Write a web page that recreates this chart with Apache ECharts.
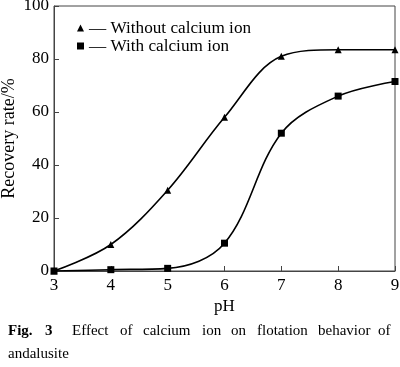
<!DOCTYPE html>
<html><head><meta charset="utf-8">
<script src="https://cdn.jsdelivr.net/npm/echarts@6/dist/echarts.min.js"></script>
<style>html,body{margin:0;padding:0;background:#fff}#c{width:400px;height:367px}</style>
</head><body><div id="c"></div>
<script>
const phValues = [3, 4, 5, 6, 7, 8, 9];
const withoutCalcium = [0, 10, 30.5, 58, 81, 83.5, 83.5];
const withCalcium = [0, 0.5, 1, 10.5, 52, 66, 71.5];
const seriesNames = ['Without calcium ion', 'With calcium ion'];
const captionBold = ['Fig.', '3'];
const captionWords = ['Effect', 'of', 'calcium', 'ion', 'on', 'flotation', 'behavior', 'of'];
const captionLine2 = 'andalusite';

const font = '"Liberation Serif", "Times New Roman", serif';
const chart = echarts.init(document.getElementById('c'));
const pairs = a => phValues.map((x, i) => [x, a[i]]);

// caption layout (justified line)
const boldX = [8, 45];
const wordX = [72, 120, 143, 202, 231, 257, 318, 378];
const capGraphic = [];
captionBold.forEach((w, i) => capGraphic.push({ type: 'text', left: boldX[i], top: 324,
  style: { text: w, font: 'bold 15px ' + font, fill: '#000' } }));
captionWords.forEach((w, i) => capGraphic.push({ type: 'text', left: wordX[i], top: 324,
  style: { text: w, font: '15px ' + font, fill: '#000' } }));
capGraphic.push({ type: 'text', left: 8, top: 347, style: { text: captionLine2, font: '15px ' + font, fill: '#000' } });

chart.setOption({
  animation: false,
  textStyle: { fontFamily: font },
  grid: { left: 54, right: 5, top: 6, bottom: 96, outerBoundsMode: 'none', containLabel: false,
    show: true, borderColor: '#444', borderWidth: 1 },
  legend: {
    left: 72, top: 14, orient: 'vertical', itemGap: 0,
    itemWidth: 7, itemHeight: 7,
    textStyle: { fontFamily: font, fontSize: 17.2, color: '#000', lineHeight: 18 },
    formatter: n => '\u2014 ' + n,
    data: [{ name: seriesNames[0], icon: 'triangle' }, { name: seriesNames[1], icon: 'rect' }]
  },
  xAxis: {
    type: 'value', min: 3, max: 9, interval: 1,
    name: 'pH', nameLocation: 'middle', nameGap: 27, nameMoveOverlap: false,
    nameTextStyle: { fontFamily: font, fontSize: 17, color: '#000' },
    axisLine: { lineStyle: { color: '#444', width: 1 } },
    axisTick: { inside: true, length: 5, lineStyle: { color: '#444' } },
    axisLabel: { fontFamily: font, fontSize: 17, color: '#000', margin: 6 },
    splitLine: { show: false }
  },
  yAxis: {
    type: 'value', min: 0, max: 100, interval: 20,
    name: 'Recovery rate/%', nameLocation: 'middle', nameGap: 36, nameMoveOverlap: false,
    nameTextStyle: { fontFamily: font, fontSize: 18, color: '#000' },
    axisLine: { show: true, lineStyle: { color: '#444', width: 1 } },
    axisTick: { show: true, inside: true, length: 5, lineStyle: { color: '#444' } },
    axisLabel: { fontFamily: font, fontSize: 17, color: '#000', margin: 5 },
    splitLine: { show: false }
  },
  series: [
    { name: seriesNames[0], type: 'line', data: pairs(withoutCalcium), smooth: 0.35,
      symbol: 'triangle', symbolSize: 7, itemStyle: { color: '#000' },
      lineStyle: { color: '#000', width: 1.6 } },
    { name: seriesNames[1], type: 'line', data: pairs(withCalcium), smooth: 0.35,
      symbol: 'rect', symbolSize: 7, itemStyle: { color: '#000' },
      lineStyle: { color: '#000', width: 1.6 } }
  ],
  graphic: capGraphic
});
</script></body></html>
